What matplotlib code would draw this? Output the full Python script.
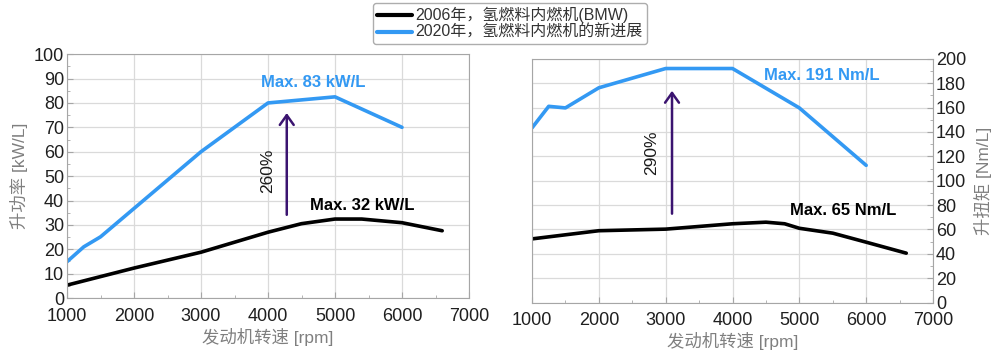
import numpy as np
import matplotlib
matplotlib.use("Agg")
from matplotlib import pyplot as plt
from matplotlib.ticker import MultipleLocator

plt.rcParams['font.family'] = ['Liberation Sans', 'Noto Sans CJK SC', 'DejaVu Sans']

# power density [kW/L]
rpm_p_2006 = [1000, 2000, 3000, 4000, 4500, 5000, 5400, 6000, 6600]
kw_2006 = [5.3, 12.3, 18.8, 27.0, 30.5, 32.4, 32.4, 30.9, 27.6]
rpm_p_2020 = [1000, 1250, 1500, 3000, 4000, 5000, 6000]
kw_2020 = [14.9, 21.0, 25.1, 60.0, 80.0, 82.5, 70.0]

# torque density [Nm/L]
rpm_t_2006 = [1000, 2000, 3000, 4000, 4500, 4780, 5000, 5500, 6000, 6600]
nm_2006 = [52.3, 59.0, 60.3, 64.7, 66.0, 64.7, 61.0, 57.0, 49.6, 40.6]
rpm_t_2020 = [1000, 1250, 1500, 2000, 3000, 4000, 5000, 6000]
nm_2020 = [143.3, 161.0, 159.7, 176.2, 192.0, 192.0, 159.7, 112.6]

legend_labels = ["2006年，氢燃料内燃机(BMW)", "2020年，氢燃料内燃机的新进展"]

BLUE = '#3399f3'
BLACK = '#000000'
ARROW = '#3b1470'
GRID = '#dadada'
SPINE = '#a6a6a6'
TICKTXT = '#1f1f1f'
LABEL = '#7f7f7f'

fig = plt.figure(figsize=(10, 3.54), dpi=100)
ax1 = fig.add_axes([0.067, 0.158, 0.402, 0.689])
ax2 = fig.add_axes([0.532, 0.145, 0.401, 0.689])


def style(ax, ymax, ystep):
    ax.set_xlim(1000, 7000)
    ax.set_ylim(0, ymax)
    ax.xaxis.set_major_locator(MultipleLocator(1000))
    ax.xaxis.set_minor_locator(MultipleLocator(500))
    ax.yaxis.set_major_locator(MultipleLocator(ystep))
    ax.yaxis.set_minor_locator(MultipleLocator(ystep / 2))
    ax.grid(True, which='major', color=GRID, lw=0.9)
    ax.set_axisbelow(True)
    for s in ax.spines.values():
        s.set_color(SPINE)
    ax.tick_params(which='both', direction='in', color=SPINE, labelsize=13,
                   labelcolor=TICKTXT, pad=2)
    ax.tick_params(axis='x', which='both', pad=7)
    ax.tick_params(which='major', length=4)
    ax.tick_params(which='minor', length=2)
    ax.set_xlabel("发动机转速 [rpm]", fontsize=12.5, color=LABEL, labelpad=2)


style(ax1, 100, 10)
l1, = ax1.plot(rpm_p_2006, kw_2006, color=BLACK, lw=2.6, solid_capstyle='round')
l2, = ax1.plot(rpm_p_2020, kw_2020, color=BLUE, lw=2.6, solid_capstyle='round')
ax1.set_ylabel("升功率 [kW/L]", fontsize=12.5, color=LABEL, labelpad=4)
ax1.annotate("", xy=(4280, 77), xytext=(4280, 33),
             arrowprops=dict(arrowstyle='->,head_width=0.5,head_length=0.7',
                             color=ARROW, lw=1.8))
ax1.text(4000, 52, "260%", rotation=90, ha='center', va='center', fontsize=12.5, color='#1a1a1a')
ax1.text(3900, 88.5, "Max. 83 kW/L", color=BLUE, fontsize=12, fontweight='bold', va='center')
ax1.text(4620, 38.1, "Max. 32 kW/L", color=BLACK, fontsize=12, fontweight='bold', va='center')

style(ax2, 200, 20)
ax2.plot(rpm_t_2006, nm_2006, color=BLACK, lw=2.6, solid_capstyle='round')
ax2.plot(rpm_t_2020, nm_2020, color=BLUE, lw=2.6, solid_capstyle='round')
ax2.yaxis.tick_right()
ax2.yaxis.set_label_position('right')
ax2.tick_params(axis='y', which='both', left=False, right=True)
ax2.set_ylabel("升扭矩 [Nm/L]", fontsize=12.5, color=LABEL, labelpad=6)
ax2.annotate("", xy=(3095, 176), xytext=(3095, 70.7),
             arrowprops=dict(arrowstyle='->,head_width=0.5,head_length=0.7',
                             color=ARROW, lw=1.8))
ax2.text(2790, 123, "290%", rotation=90, ha='center', va='center', fontsize=12.5, color='#1a1a1a')
ax2.text(4470, 186.3, "Max. 191 Nm/L", color=BLUE, fontsize=12, fontweight='bold', va='center')
ax2.text(4855, 75.6, "Max. 65 Nm/L", color=BLACK, fontsize=12, fontweight='bold', va='center')

leg = fig.legend([l1, l2], legend_labels, loc='upper center', bbox_to_anchor=(0.51, 1.0),
                 fontsize=11.5, handlelength=2.2, handletextpad=0.2, borderpad=0.25,
                 labelspacing=0.1, frameon=True, fancybox=True, borderaxespad=0.2)
leg.get_frame().set_edgecolor('#999999')
leg.get_frame().set_linewidth(1.0)
for t in leg.get_texts():
    t.set_color('#333333')
for h in leg.legend_handles:
    h.set_linewidth(3)

fig.savefig("out.png", dpi=100)
